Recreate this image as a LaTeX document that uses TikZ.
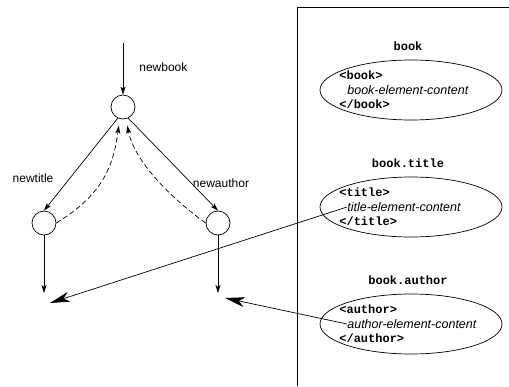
\documentclass[tikz,border=0pt]{standalone}
\usepackage{fontspec}
\setsansfont{Liberation Sans}
\setmonofont{Liberation Mono}
\usetikzlibrary{arrows.meta,shapes.geometric}

\begin{document}
\begin{tikzpicture}[x=1pt, y=-1pt, line width=0.7pt,
    state/.style={draw, circle, minimum size=24pt, inner sep=0pt},
    elem/.style={draw, ellipse, minimum width=182pt, minimum height=60pt},
    lbl/.style={font=\fontsize{12}{14}\selectfont\sffamily, inner sep=0pt},
    tag/.style={font=\fontsize{12}{14}\selectfont\ttfamily\bfseries, anchor=west, inner sep=0pt},
    cont/.style={font=\fontsize{12.5}{14}\selectfont\sffamily\itshape, anchor=west, inner sep=0pt},
    flow/.style={-{Stealth[length=8pt, width=5pt, inset=2pt]}},
    back/.style={flow, dash pattern=on 5pt off 3pt},
    link/.style={-{Stealth[length=20pt, width=10pt, inset=6pt]}}]
      \useasboundingbox (0,0) rectangle (509,386);

      % Nodes
      \coordinate (in) at (123,43);
      \node[state] (newbook) at (123,107) {};
      \node[state] (newtitle) at (44,223) {};
      \node[state] (newauthor) at (218,223) {};
      \coordinate (titleout) at (44,293);
      \coordinate (authorout) at (218,293);
      \coordinate (titleend) at (50,303);
      \coordinate (authorend) at (225,298);

      \node[lbl, anchor=west] (bookname) at (139,67) {newbook};
      \node[lbl] (titlename) at (33,178) {newtitle};
      \node[lbl] (authorname) at (221,183) {newauthor};

      % Document
      \draw (297,386) |- (509,7);

      \node[tag, anchor=center] (booklbl) at (408,46) {book};
      \node[elem] (bookel) at (411,90) {};
      \node[tag] (bookopen) at (339,75.5) {<book>};
      \node[cont] (bookcont) at (347,90) {book-element-content};
      \node[tag] (bookclose) at (339,104.5) {</book>};

      \node[tag, anchor=center] (titlelbl) at (408,163) {book.title};
      \node[elem] (titleel) at (411,207) {};
      \node[tag] (titleopen) at (339,192.5) {<title>};
      \node[cont] (titlecont) at (347,207) {title-element-content};
      \node[tag] (titleclose) at (339,221.5) {</title>};

      \node[tag, anchor=center] (authorlbl) at (408,280) {book.author};
      \node[elem] (authorel) at (411,324) {};
      \node[tag] (authoropen) at (339,309.5) {<author>};
      \node[cont] (authorcont) at (347,324) {author-element-content};
      \node[tag] (authorclose) at (339,338.5) {</author>};

      % Edges
      \draw[flow] (in) -- (newbook);
      \draw[flow] (newbook.245) -- (newtitle.north);
      \draw[flow] (newbook.295) -- (newauthor.north);
      \draw[back] (newtitle.east) .. controls (100,196) and (113,170) .. ([yshift=-7pt]newbook.250);
      \draw[back] (newauthor.west) .. controls (160,190) and (133,155) .. ([yshift=-7pt]newbook.290);
      \draw[flow] (newtitle) -- (titleout);
      \draw[flow] (newauthor) -- (authorout);
      \draw[link] (titlecont.west) -- (titleend);
      \draw[link] (authorcont.west) -- (authorend);
    \end{tikzpicture}
\end{document}
